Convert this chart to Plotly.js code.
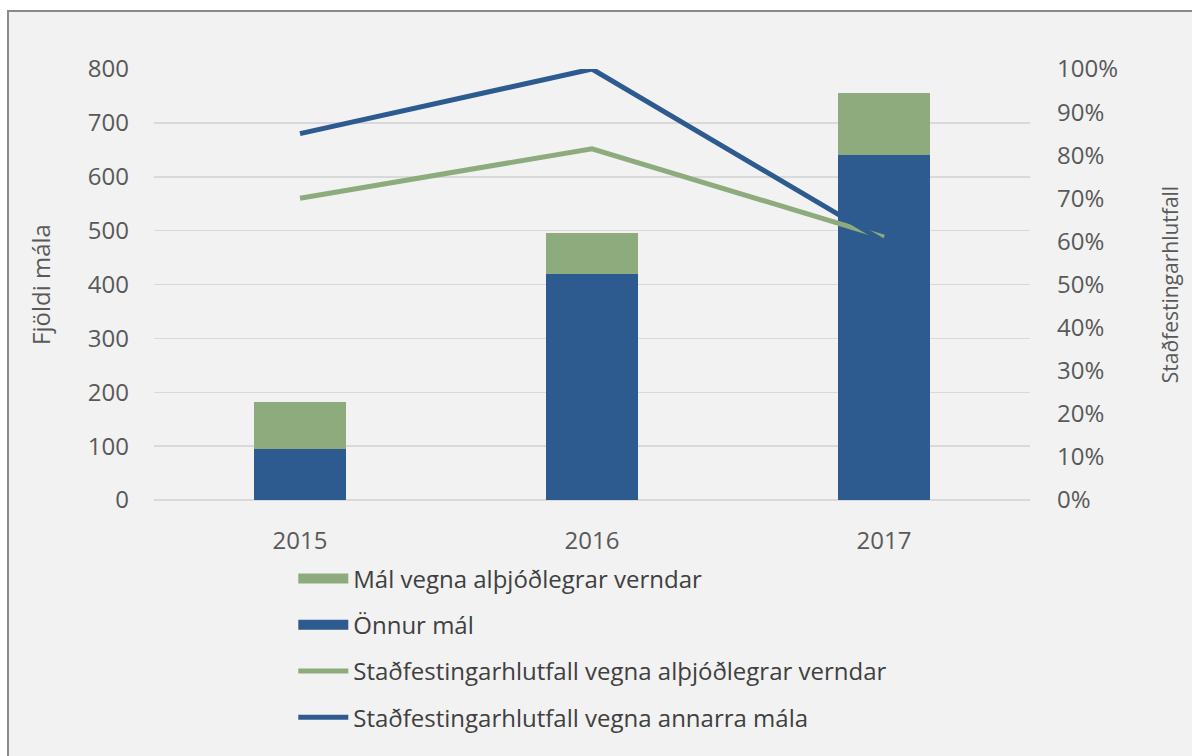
<!DOCTYPE html>
<html>
<head>
<meta charset="utf-8">
<script src="https://cdn.plot.ly/plotly-3.0.1.min.js"></script>
<style>
  html, body { margin: 0; padding: 0; background: #ffffff; overflow: hidden; width: 1192px; height: 756px; }
  #frame { position: absolute; left: 7px; top: 10px; width: 1190px; height: 752px; overflow: hidden;
           border-left: 2px solid #8a8a8a; border-top: 2px solid #8a8a8a; background: #f2f2f2; }
  #chart { position: absolute; left: 0; top: 0; width: 1183px; height: 800px; }
</style>
</head>
<body>
<div id="frame"><div id="chart"></div></div>
<script>
const years = ['2015', '2016', '2017'];
const onnurMal = [94, 419, 641];            // Önnur mál
const verndMal = [87, 76, 115];             // Mál vegna alþjóðlegrar verndar
const hlutfallVernd = [0.70, 0.815, 0.61];  // Staðfestingarhlutfall vegna alþjóðlegrar verndar
const hlutfallAnnad = [0.85, 1.00, 0.60];   // Staðfestingarhlutfall vegna annarra mála

const names = {
  vernd: 'Mál vegna alþjóðlegrar verndar',
  onnur: 'Önnur mál',
  hVernd: 'Staðfestingarhlutfall vegna alþjóðlegrar verndar',
  hAnnad: 'Staðfestingarhlutfall vegna annarra mála'
};

const blue = '#2e5b8f';
const green = '#8eab7e';

const traces = [
  { type: 'bar', x: years, y: onnurMal, name: names.onnur, marker: { color: blue },
    showlegend: false, hoverinfo: 'y' },
  { type: 'bar', x: years, y: verndMal, name: names.vernd, marker: { color: green },
    showlegend: false, hoverinfo: 'y' },
  { type: 'scatter', mode: 'lines', x: years, y: hlutfallVernd, yaxis: 'y2', name: names.hVernd,
    line: { color: green, width: 5 }, legendrank: 3, legendgroup: 'c' },
  { type: 'scatter', mode: 'lines', x: years, y: hlutfallAnnad, yaxis: 'y2', name: names.hAnnad,
    line: { color: blue, width: 5 }, legendrank: 4, legendgroup: 'd' },
  // legend keys for the bar series (wide rectangles as in the original)
  { type: 'scatter', mode: 'lines', x: [null], y: [null], name: names.vernd,
    line: { color: green, width: 16 }, legendrank: 1, legendgroup: 'a', hoverinfo: 'skip' },
  { type: 'scatter', mode: 'lines', x: [null], y: [null], name: names.onnur,
    line: { color: blue, width: 16 }, legendrank: 2, legendgroup: 'b', hoverinfo: 'skip' }
];

const tickFont = { family: 'Open Sans, sans-serif', size: 24, color: '#595959' };

const layout = {
  width: 1183, height: 800,
  paper_bgcolor: '#f2f2f2', plot_bgcolor: '#f2f2f2',
  margin: { l: 145, r: 162, t: 57, b: 311.5, pad: 0 },
  barmode: 'stack',
  bargap: 0.685,
  font: { family: 'Open Sans, sans-serif', color: '#595959' },
  xaxis: {
    type: 'category', range: [-0.5, 2.5], showgrid: false, zeroline: false,
    showline: false, ticks: '', tickfont: tickFont, ticklabelstandoff: 24
  },
  yaxis: {
    range: [0, 800], dtick: 100, showgrid: true, gridcolor: '#d9d9d9', gridwidth: 1.5,
    zeroline: true, zerolinecolor: '#d9d9d9', zerolinewidth: 1.5,
    showline: false, ticks: '', tickfont: tickFont, ticklabelstandoff: 24,
    title: { text: 'Fjöldi mála', font: { family: 'Open Sans, sans-serif', size: 24, color: '#595959' }, standoff: 30 }
  },
  yaxis2: {
    range: [0, 1], dtick: 0.1, tickformat: '.0%', overlaying: 'y', side: 'right',
    showgrid: false, zeroline: false, showline: false, ticks: '',
    tickfont: tickFont, ticklabelstandoff: 26,
    title: { text: 'Staðfestingarhlutfall', font: { family: 'Open Sans, sans-serif', size: 21, color: '#595959' }, standoff: 46 }
  },
  showlegend: true,
  legend: {
    orientation: 'v', x: 0.159, xanchor: 'left', y: -0.131, yanchor: 'top',
    bgcolor: 'rgba(0,0,0,0)', font: { family: 'Open Sans, sans-serif', size: 24, color: '#404040' },
    traceorder: 'grouped', tracegroupgap: 12, itemwidth: 50
  }
};

Plotly.newPlot('chart', traces, layout, { displayModeBar: false, staticPlot: true });
</script>
</body>
</html>
